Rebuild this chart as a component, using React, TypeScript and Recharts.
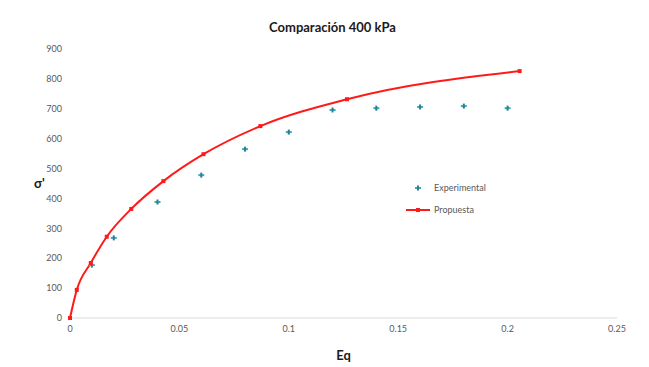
import React from "react";
import {
  ComposedChart,
  Line,
  Scatter,
  XAxis,
  YAxis,
  Label,
} from "recharts";

// valores experimentales (Eq, σ')
const expEq = [0.01, 0.02, 0.04, 0.06, 0.08, 0.1, 0.12, 0.14, 0.16, 0.18, 0.2];
const expSigma = [177, 268, 388, 478, 565, 622, 696, 702, 706, 709, 702];

// curva propuesta
const modelEq = [0, 0.0031, 0.0095, 0.0168, 0.028, 0.0427, 0.061, 0.087, 0.1266, 0.2055];
const modelSigma = [0, 94, 184, 272, 365, 458, 548, 642, 732, 826];

const xTicks = [0, 0.05, 0.1, 0.15, 0.2, 0.25];
const yTicks = [0, 100, 200, 300, 400, 500, 600, 700, 800, 900];

const expData = expEq.map((x, i) => ({ x, y: expSigma[i] }));
const modelData = modelEq.map((x, i) => ({ x, y: modelSigma[i] }));

const FONT = "Lato, 'Open Sans', sans-serif";
const TEAL = "#3fa9bf";
const RED = "#ff1a1a";

const ExpMarker = (props: any) => {
  const { cx, cy } = props;
  if (cx == null || cy == null) return null;
  return (
    <g>
      <rect x={cx - 3} y={cy - 1} width={6} height={2} fill={TEAL} />
      <rect x={cx - 1} y={cy - 2.5} width={2} height={5} fill="#2c7f90" />
    </g>
  );
};

const ModelDot = (props: any) => {
  const { cx, cy } = props;
  if (cx == null || cy == null) return null;
  return <rect x={cx - 2} y={cy - 2} width={4} height={4} fill={RED} />;
};

const LegendBox = () => (
  <div
    style={{
      position: "absolute",
      left: 406,
      top: 177,
      fontFamily: FONT,
      fontSize: 9,
      color: "#595959",
      lineHeight: "22px",
    }}
  >
    <div style={{ display: "flex", alignItems: "center" }}>
      <svg width={24} height={10}>
        <rect x={9} y={4} width={6} height={2} fill={TEAL} />
        <rect x={11} y={2.5} width={2} height={5} fill="#2c7f90" />
      </svg>
      <span style={{ marginLeft: 4 }}>Experimental</span>
    </div>
    <div style={{ display: "flex", alignItems: "center" }}>
      <svg width={24} height={10}>
        <line x1={0} y1={5} x2={24} y2={5} stroke={RED} strokeWidth={2} />
        <rect x={10} y={3} width={4} height={4} fill={RED} />
      </svg>
      <span style={{ marginLeft: 4 }}>Propuesta</span>
    </div>
  </div>
);

export default function App() {
  return (
    <div style={{ position: "absolute", left: 0, top: 0, width: 649, height: 367, background: "#fff" }}>
      <div
        style={{
          position: "absolute",
          top: 19,
          left: 0,
          width: 649,
          textAlign: "center",
          fontFamily: FONT,
          fontWeight: 700,
          fontSize: 13,
          color: "#1a1a1a",
          paddingLeft: 16,
          boxSizing: "border-box",
        }}
      >
        Comparación 400 kPa
      </div>
      <ComposedChart
        width={649}
        height={367}
        margin={{ top: 49, right: 32, left: 20, bottom: 19 }}
      >
        <XAxis
          type="number"
          dataKey="x"
          domain={[0, 0.25]}
          ticks={xTicks}
          tick={{ fontSize: 9, fill: "#595959", fontFamily: FONT }}
          axisLine={{ stroke: "#d9d9d9" }}
          tickLine={false}
          height={30}
          allowDuplicatedCategory={false}
        >
          <Label
            value="Eq"
            position="insideBottom"
            offset={-12}
            style={{ fontFamily: FONT, fontWeight: 700, fontSize: 13, fill: "#1a1a1a" }}
          />
        </XAxis>
        <YAxis
          type="number"
          dataKey="y"
          domain={[0, 900]}
          ticks={yTicks}
          width={50}
          tick={{ fontSize: 9, fill: "#595959", fontFamily: FONT }}
          axisLine={false}
          tickLine={false}
        >
          <Label
            value="σ'"
            position="insideLeft"
            offset={14}
            style={{ fontFamily: FONT, fontWeight: 700, fontSize: 13, fill: "#1a1a1a" }}
          />
        </YAxis>
        <Scatter
          name="Experimental"
          data={expData}
          shape={<ExpMarker />}
          isAnimationActive={false}
        />
        <Line
          name="Propuesta"
          data={modelData}
          dataKey="y"
          type="monotone"
          stroke={RED}
          strokeWidth={2}
          dot={<ModelDot />}
          activeDot={false}
          isAnimationActive={false}
        />
      </ComposedChart>
      <LegendBox />
    </div>
  );
}
